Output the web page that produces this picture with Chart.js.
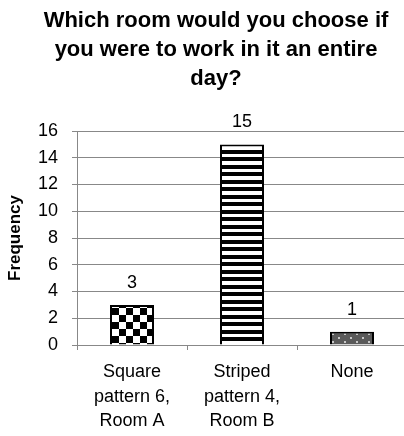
<!DOCTYPE html>
<html>
<head>
<meta charset="utf-8">
<script src="https://cdn.jsdelivr.net/npm/chart.js@4/dist/chart.umd.min.js"></script>
<style>
  html,body{margin:0;padding:0;background:#fff;overflow:hidden}
  #wrap{width:404px;height:436px;overflow:hidden}
  canvas{display:block}
</style>
</head>
<body>
<div id="wrap"><canvas id="roomChart" width="407" height="436"></canvas></div>
<script>
/* ── data ── */
const titleLines = ['Which room would you choose if', 'you were to work in it an entire', 'day?'];
const roomLabels = [['Square', 'pattern 6,', 'Room A'], ['Striped', 'pattern 4,', 'Room B'], ['None']];
const frequency  = [3, 15, 1];
const yAxisTitle = 'Frequency';
const yMin = 0, yMax = 16, yStep = 2;

const FONT = '"Liberation Sans", Arial, sans-serif';
const GRID = '#888888';

/* ── fill patterns ── */
function makeTile(w, h, paint){
  const c = document.createElement('canvas'); c.width = w; c.height = h;
  paint(c.getContext('2d'));
  return document.createElement('canvas').getContext('2d').createPattern(c, 'repeat');
}
const checker = makeTile(14, 14, g=>{
  g.fillStyle='#fff'; g.fillRect(0,0,14,14);
  g.fillStyle='#000'; g.fillRect(0,0,7,7); g.fillRect(7,7,7,7);
});
const stripes = makeTile(1, 15, g=>{
  g.fillStyle='#000'; g.fillRect(0,0,1,15);
  g.fillStyle='#fff'; g.fillRect(0,4,1,3); g.fillRect(0,11,1,4);
});
const dots = makeTile(12, 8, g=>{
  g.fillStyle='#5a5a5a'; g.fillRect(0,0,12,8);
  g.fillStyle='#c8c8c8'; g.fillRect(2,1,2,2); g.fillRect(8,5,2,2);
});

/* ── value labels above bars ── */
const barValueLabels = {
  id:'barValueLabels',
  afterDatasetsDraw(chart){
    const {ctx} = chart;
    ctx.save();
    ctx.font = '18px ' + FONT; ctx.fillStyle = '#000';
    ctx.textAlign = 'center'; ctx.textBaseline = 'alphabetic';
    chart.getDatasetMeta(0).data.forEach((bar,i)=>ctx.fillText(String(frequency[i]), bar.x, bar.y-17));
    ctx.restore();
  }
};

Chart.defaults.font.family = FONT;
Chart.defaults.color = '#000';

new Chart(document.getElementById('roomChart'), {
  type:'bar',
  data:{
    labels: roomLabels,
    datasets:[{
      data: frequency,
      backgroundColor: [checker, stripes, dots],
      borderColor:'#000', borderWidth:2,
      barPercentage:0.4, categoryPercentage:1
    }]
  },
  options:{
    responsive:false, animation:false,
    layout:{padding:{left:25, right:0, top:0, bottom:0}},
    plugins:{
      legend:{display:false}, tooltip:{enabled:false},
      title:{display:true, text:titleLines, color:'#000',
        font:{size:22, weight:'bold', lineHeight:29/22},
        padding:{top:6, bottom:38}}
    },
    scales:{
      x:{
        grid:{display:true, drawOnChartArea:false, offset:true, tickLength:5, color:GRID},
        border:{color:GRID},
        ticks:{font:{size:18, lineHeight:24.5/18}, color:'#000', padding:10, maxRotation:0, autoSkip:false},
        afterFit(s){ s.height = 91; }
      },
      y:{
        min:yMin, max:yMax,
        ticks:{stepSize:yStep, font:{size:18}, color:'#000', padding:14},
        grid:{color:GRID, tickLength:5},
        border:{color:GRID},
        title:{display:true, text:yAxisTitle, color:'#000', font:{size:17, weight:'bold'}, padding:{top:-20, bottom:0}},
        afterFit(s){ s.width = 52; }
      }
    }
  },
  plugins:[barValueLabels]
});
</script>
</body>
</html>
